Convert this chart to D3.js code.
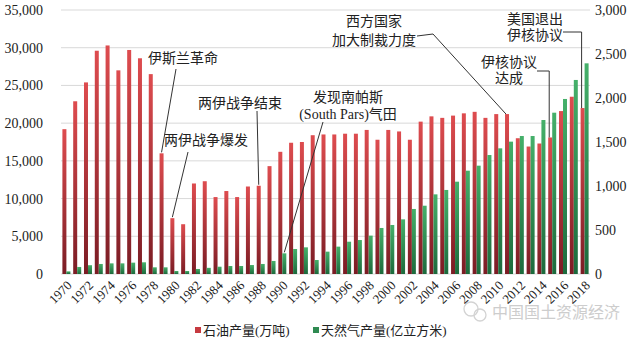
<!DOCTYPE html>
<html>
<head>
<meta charset="utf-8">
<script src="https://cdn.jsdelivr.net/npm/d3@7"></script>
<style>
  html, body { margin: 0; padding: 0; background: #fff; }
  svg { display: block; }
  text { font-family: 'Liberation Serif', 'Noto Sans CJK SC', serif; fill: #222; }
</style>
</head>
<body>
<svg id="chart" width="640" height="342"></svg>
<script>
// ---------- data ----------
const years = d3.range(1970, 2019);
const oilOutput = [19200, 22900, 25400, 29600, 30300, 27000, 29700, 28600, 26500,
  16000, 7400, 6600, 12000, 12300, 10200, 11000, 10200, 11600, 11700,
  14300, 16200, 17400, 17500, 18400, 18500, 18500, 18600, 18600, 19100,
  17800, 19100, 18900, 17800, 20200, 20900, 20700, 21000, 21300, 21500,
  20700, 21200, 21200, 18000, 16900, 17300, 18100, 21600, 23500, 22000];
const gasOutput = [30, 80, 100, 114, 121, 121, 129, 133, 76, 76,
  34, 34, 57, 70, 83, 91, 91, 102, 114, 148,
  235, 284, 303, 159, 254, 311, 367, 386, 436, 523,
  557, 621, 739, 776, 905, 955, 1049, 1174, 1231, 1352,
  1428, 1504, 1568, 1568, 1750, 1833, 1989, 2205, 2394];
const leftTicks = [0, 5000, 10000, 15000, 20000, 25000, 30000, 35000];
const rightTicks = [0, 500, 1000, 1500, 2000, 2500, 3000];
const xTickYears = years.filter(y => y % 2 === 0);
const seriesNames = ["石油产量(万吨)", "天然气产量(亿立方米)"];
const annotations = [
  { lines: ["伊斯兰革命"], year: 1979, series: "oil" },
  { lines: ["两伊战争爆发"], year: 1980, series: "oil" },
  { lines: ["两伊战争结束"], year: 1988, series: "oil" },
  { lines: ["发现南帕斯", "(South Pars)气田"], year: 1990, series: "gas" },
  { lines: ["西方国家", "加大制裁力度"], year: 2011, series: "oil" },
  { lines: ["伊核协议", "达成"], year: 2015, series: "oil" },
  { lines: ["美国退出", "伊核协议"], year: 2018, series: "oil" }
];

// ---------- layout ----------
const svg = d3.select("#chart");
const plotL = 61, plotR = 590, plotT = 10, plotB = 274;

const x0 = d3.scaleBand().domain(years).range([plotL, plotR]).padding(0);
const x1 = d3.scaleBand().domain(["oil", "gas"]).range([0, x0.bandwidth()])
  .paddingInner(0).paddingOuter(0.35);
const yL = d3.scaleLinear().domain([0, 35000]).range([plotB, plotT]);
const yR = d3.scaleLinear().domain([0, 3000]).range([plotB, plotT]);

// gradients
const defs = svg.append("defs");
function grad(id, top, bottom) {
  const g = defs.append("linearGradient").attr("id", id)
    .attr("x1", 0).attr("y1", 0).attr("x2", 0).attr("y2", 1);
  g.append("stop").attr("offset", "0%").attr("stop-color", top);
  g.append("stop").attr("offset", "100%").attr("stop-color", bottom);
}
grad("gOil", "#de4c4f", "#7a1c24");
grad("gGas", "#45b06a", "#1c6a3c");

// gridlines
svg.append("g").selectAll("line").data(leftTicks).join("line")
  .attr("x1", plotL).attr("x2", plotR)
  .attr("y1", d => yL(d)).attr("y2", d => yL(d))
  .attr("stroke", "#d9d9d9").attr("stroke-width", 1);

// left axis
const gL = svg.append("g").attr("transform", `translate(${plotL - 18},0)`)
  .call(d3.axisLeft(yL).tickValues(leftTicks).tickSize(0).tickPadding(0).tickFormat(d3.format(",")));
gL.select(".domain").remove();
gL.selectAll("text").attr("font-size", 14).attr("fill", "#222");

// right axis
const gR = svg.append("g").attr("transform", `translate(${plotR + 5},0)`)
  .call(d3.axisRight(yR).tickValues(rightTicks).tickSize(0).tickPadding(0).tickFormat(d3.format(",")));
gR.select(".domain").remove();
gR.selectAll("text").attr("font-size", 14).attr("fill", "#222");

// bars
const bars = svg.append("g");
bars.selectAll("rect.oil").data(years).join("rect").attr("class", "oil")
  .attr("x", (d) => x0(d) + x1("oil"))
  .attr("width", x1.bandwidth())
  .attr("y", (d, i) => yL(oilOutput[i]))
  .attr("height", (d, i) => plotB - yL(oilOutput[i]))
  .attr("fill", "url(#gOil)");
bars.selectAll("rect.gas").data(years).join("rect").attr("class", "gas")
  .attr("x", (d) => x0(d) + x1("gas"))
  .attr("width", x1.bandwidth())
  .attr("y", (d, i) => yR(gasOutput[i]))
  .attr("height", (d, i) => plotB - yR(gasOutput[i]))
  .attr("fill", "url(#gGas)");

// x axis
const gX = svg.append("g").attr("transform", `translate(0,${plotB})`)
  .call(d3.axisBottom(x0).tickValues(xTickYears).tickSize(0));
gX.select(".domain").remove();
gX.selectAll("text")
  .attr("font-size", 13).attr("fill", "#222")
  .attr("x", 0).attr("y", 0).attr("dy", "0.35em")
  .attr("text-anchor", "end")
  .attr("transform", "translate(3,9) rotate(-45)");

// annotation helpers
function barTop(a) {
  const i = years.indexOf(a.year);
  const bx = x0(a.year) + x1(a.series) + x1.bandwidth() / 2;
  const by = a.series === "oil" ? yL(oilOutput[i]) : yR(gasOutput[i]);
  return [bx, by];
}
const ann = svg.append("g");
function addText(lines, cx, y0, lh) {
  lines.forEach((t, k) => {
    ann.append("text").attr("x", cx).attr("y", y0 + k * lh)
      .attr("text-anchor", "middle").attr("font-size", 14).attr("fill", "#222").text(t);
  });
}
function addLine(pts) {
  ann.append("path").attr("d", d3.line()(pts))
    .attr("fill", "none").attr("stroke", "#333").attr("stroke-width", 1);
}
// layout positions of callouts (text centre x, baseline y)
const layout = [
  { cx: 183, y: 63, lh: 0, from: [176, 69] },
  { cx: 206, y: 145, lh: 0, from: [188, 152] },
  { cx: 240, y: 108, lh: 0, from: [257, 111] },
  { cx: 348, y: 102, lh: 17, from: [323, 122] },
  { cx: 374, y: 26, lh: 19, via: [[417, 36], [433, 34]] },
  { cx: 509, y: 67, lh: 16, via: [[537, 71]], corner: true },
  { cx: 535, y: 24, lh: 16, via: [[563, 32]], corner: true }
];
annotations.forEach((a, k) => {
  const L = layout[k];
  addText(a.lines, L.cx, L.y, L.lh);
  const [bx, by] = barTop(a);
  if (L.from) {
    addLine([L.from, [bx, by - 1]]);
  } else if (L.corner) {
    const s = L.via[0];
    addLine([s, [bx - 1, s[1]], [bx - 1, by]]);
  } else {
    addLine([...L.via, [bx - 1, by]]);
  }
});

// legend
const leg = svg.append("g");
const legItems = [
  { name: seriesNames[0], color: "#c63a40", x: 195 },
  { name: seriesNames[1], color: "#2f8a52", x: 313 }
];
legItems.forEach(it => {
  leg.append("rect").attr("x", it.x).attr("y", 327).attr("width", 6).attr("height", 6).attr("fill", it.color);
  leg.append("text").attr("x", it.x + 8).attr("y", 335).attr("font-size", 13).attr("fill", "#222").text(it.name);
});

// watermark
const wm = svg.append("g").attr("opacity", 0.9);
wm.append("circle").attr("cx", 471).attr("cy", 309).attr("r", 7).attr("fill", "none").attr("stroke", "#cfcfcf").attr("stroke-width", 1.3);
wm.append("circle").attr("cx", 480).attr("cy", 315).attr("r", 6).attr("fill", "none").attr("stroke", "#cfcfcf").attr("stroke-width", 1.3);
wm.append("text").attr("x", 492).attr("y", 318).attr("font-size", 16)
  .style("font-family", "'Noto Sans CJK SC', sans-serif").attr("fill", "#c8c8c8").style("fill", "#c8c8c8")
  .text("中国国土资源经济");
</script>
</body>
</html>
